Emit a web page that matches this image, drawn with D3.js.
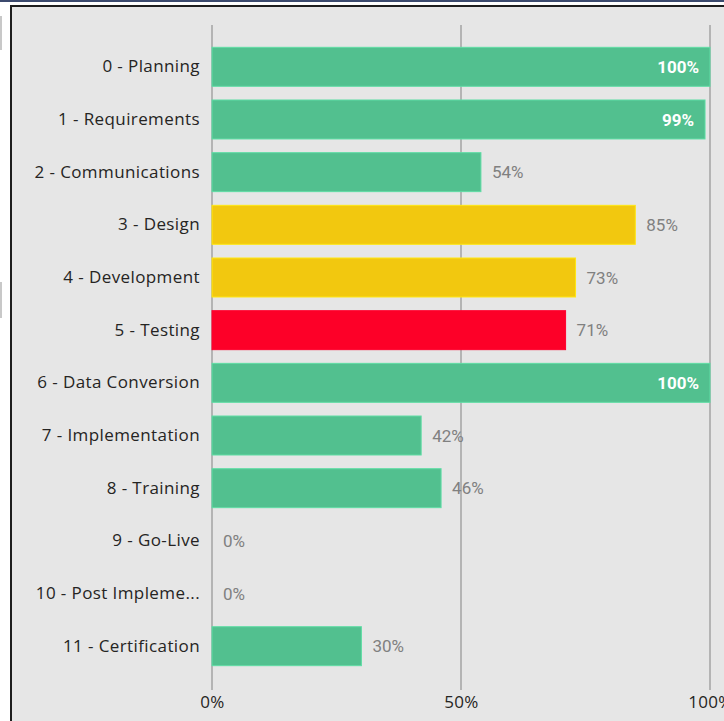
<!DOCTYPE html>
<html>
<head>
<meta charset="utf-8">
<script src="https://cdn.jsdelivr.net/npm/d3@7"></script>
<style>
  html, body { margin: 0; padding: 0; background: #fff; overflow: hidden; }
</style>
</head>
<body>
<div id="chart"></div>
<script>
/* DATA */
const phases = ["0 - Planning", "1 - Requirements", "2 - Communications", "3 - Design",
  "4 - Development", "5 - Testing", "6 - Data Conversion", "7 - Implementation",
  "8 - Training", "9 - Go-Live", "10 - Post Impleme...", "11 - Certification"];
const complete = [1.00, 0.99, 0.54, 0.85, 0.73, 0.71, 1.00, 0.42, 0.46, 0, 0, 0.30];
const status = ["ok", "ok", "ok", "warn", "warn", "late", "ok", "ok", "ok", "ok", "ok", "ok"];
const ticks = [0, 0.5, 1];

const width = 724, height = 721;
const colors = {ok: "#52c08f", warn: "#f2c80f", late: "#fd0028"};

const svg = d3.select("#chart").append("svg")
  .attr("width", width)
  .attr("height", height);

// frame bits around the visual
svg.append("rect").attr("x", 0).attr("y", 0).attr("width", width).attr("height", 2).attr("fill", "#3c4a6e");
svg.append("rect").attr("x", 10).attr("y", 5).attr("width", width).attr("height", height).attr("fill", "#1e1e1e");
svg.append("rect").attr("x", 12).attr("y", 7).attr("width", width).attr("height", height).attr("fill", "#e6e6e6");
svg.append("rect").attr("x", 0).attr("y", 16).attr("width", 2).attr("height", 34).attr("fill", "#c8c8c8");
svg.append("rect").attr("x", 0).attr("y", 282).attr("width", 2).attr("height", 36).attr("fill", "#c8c8c8");

const x = d3.scaleLinear().domain([0, 1]).range([212, 710]);
const y = d3.scaleBand().domain(phases).range([41, 672]).paddingInner(0.26).paddingOuter(0.12);

// gridlines
svg.append("g").selectAll("line")
  .data(ticks)
  .join("line")
  .attr("x1", d => x(d)).attr("x2", d => x(d))
  .attr("y1", 25).attr("y2", 690)
  .attr("stroke", "#b4b4b4")
  .attr("stroke-width", 2);

// x axis labels
const xAxis = d3.axisBottom(x).tickValues(ticks).tickFormat(d3.format(".0%")).tickSize(0).tickPadding(0);
const gx = svg.append("g")
  .attr("transform", "translate(0,696)")
  .call(xAxis);
gx.select(".domain").remove();
gx.selectAll("text")
  .attr("dy", "0.71em")
  .style("font-family", "'Segoe UI', 'Open Sans', sans-serif")
  .style("font-size", "17px")
  .style("letter-spacing", "0.3px")
  .attr("fill", "#252423");

// y axis labels
const yAxis = d3.axisLeft(y).tickSize(0).tickPadding(12);
const gy = svg.append("g")
  .attr("transform", "translate(212,0)")
  .call(yAxis);
gy.select(".domain").remove();
gy.selectAll("text")
  .style("font-family", "'Segoe UI', 'Open Sans', sans-serif")
  .style("font-size", "17px")
  .style("letter-spacing", "0.4px")
  .attr("fill", "#252423");

// bars
svg.append("g").selectAll("rect")
  .data(phases)
  .join("rect")
  .attr("x", x(0))
  .attr("y", d => y(d))
  .attr("width", (d, i) => x(complete[i]) - x(0))
  .attr("height", y.bandwidth())
  .attr("fill", (d, i) => colors[status[i]])
  .attr("stroke", (d, i) => d3.color(colors[status[i]]).brighter(0.4))
  .attr("stroke-width", (d, i) => complete[i] > 0 ? 1 : 0);

// data labels
svg.append("g").selectAll("text")
  .data(phases)
  .join("text")
  .attr("x", (d, i) => complete[i] >= 0.95 ? x(complete[i]) - 11 : x(complete[i]) + 11)
  .attr("y", d => y(d) + y.bandwidth() / 2)
  .attr("dy", "0.36em")
  .attr("text-anchor", (d, i) => complete[i] >= 0.95 ? "end" : "start")
  .attr("fill", (d, i) => complete[i] >= 0.95 ? "#ffffff" : "#808080")
  .style("font-family", "'Roboto', 'DejaVu Sans Condensed', sans-serif")
  .style("font-weight", (d, i) => complete[i] >= 0.95 ? "bold" : "normal")
  .style("font-size", "17px")
  .text((d, i) => d3.format(".0%")(complete[i]));
</script>
</body>
</html>
